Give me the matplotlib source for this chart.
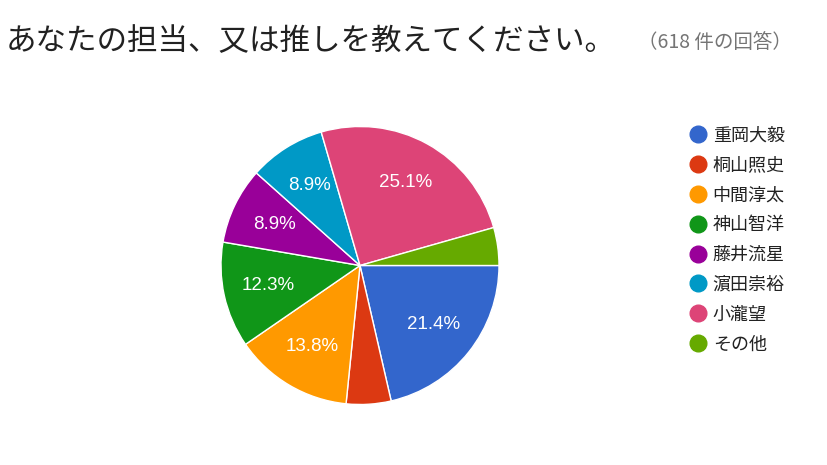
import matplotlib
matplotlib.use('Agg')
import matplotlib.pyplot as plt
from matplotlib.lines import Line2D

plt.rcParams['font.family'] = ['Noto Sans CJK JP', 'DejaVu Sans']

# データ
names = ['重岡大毅', '桐山照史', '中間淳太', '神山智洋', '藤井流星', '濵田崇裕', '小瀧望', 'その他']
shares = [21.4, 5.2, 13.8, 12.3, 8.9, 8.9, 25.1, 4.4]
colors = ['#3366cc', '#dc3912', '#ff9900', '#109618', '#990099', '#0099c6', '#dd4477', '#66aa00']
title = 'あなたの担当、又は推しを教えてください。'
count_text = '（618 件の回答）'

W, H = 827, 465
fig = plt.figure(figsize=(W / 100, H / 100), dpi=100)

# 円グラフ (中心 360,265 半径 139px)
cx, cy, r = 360, 265.5, 139
ax = fig.add_axes([(cx - r) / W, (H - cy - r) / H, 2 * r / W, 2 * r / H])
wedges, texts, autotexts = ax.pie(
    shares, colors=colors, startangle=0, counterclock=False,
    autopct=lambda p: f'{p:.1f}%' if p > 6 else '', pctdistance=0.68,
    wedgeprops=dict(edgecolor='white', linewidth=1), radius=1)
for t in autotexts:
    t.set_color('white')
    t.set_fontsize(13.5)
    t.set_family(['Liberation Sans', 'DejaVu Sans'])
ax.set_xlim(-1, 1)
ax.set_ylim(-1, 1)
ax.set_aspect('equal')
ax.axis('off')

# タイトル
fig.text(6 / W, 1 - 42 / H, title, fontsize=22, color='#212121', va='center')
fig.text(638 / W, 1 - 42 / H, count_text, fontsize=14, color='#757575', va='center')

# 凡例
handles = [Line2D([], [], marker='o', linestyle='', markersize=12,
                  markerfacecolor=c, markeredgecolor=c) for c in colors]
leg = fig.legend(handles, names, loc='upper left', bbox_to_anchor=(682 / W, 1 - 119 / H),
                 frameon=False, fontsize=13, labelspacing=0.66, handletextpad=0.3,
                 handlelength=1.0, borderaxespad=0)
for t in leg.get_texts():
    t.set_color('#222222')

plt.savefig('out.png', dpi=100)
